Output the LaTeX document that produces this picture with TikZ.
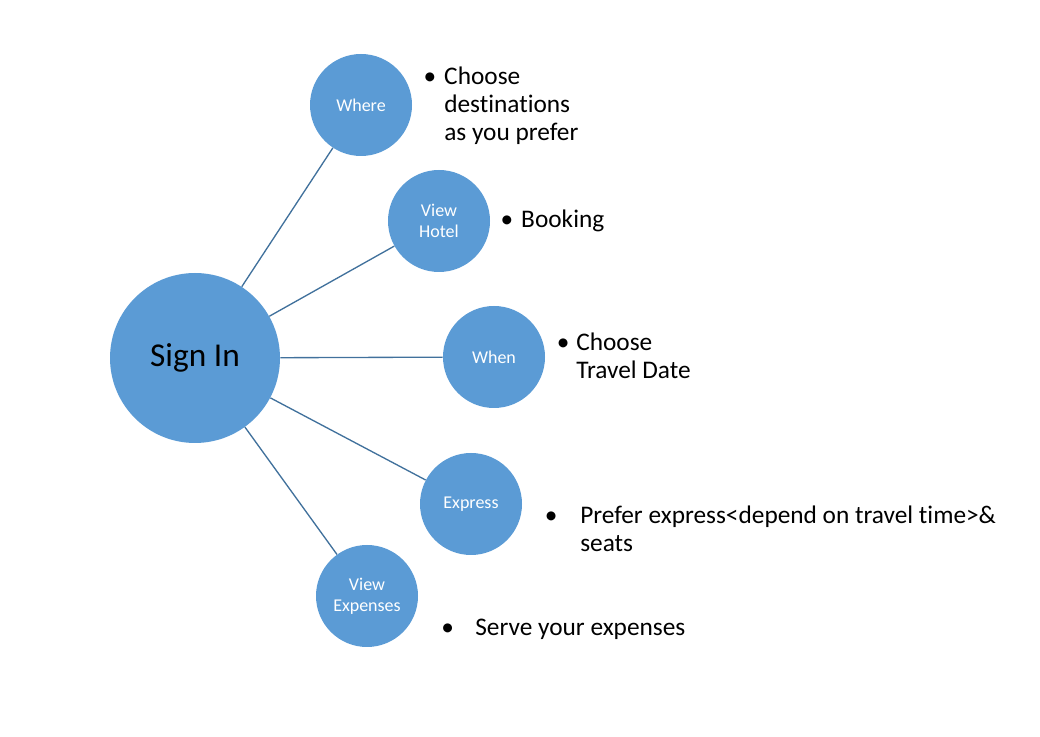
\documentclass[tikz,border=0pt]{standalone}
\usepackage{fontspec}
\setmainfont{Carlito}[Ligatures=NoCommon]
\usepackage{tikz}
\usetikzlibrary{positioning}

\definecolor{bubble}{RGB}{91,155,213}
\definecolor{spokeline}{RGB}{65,113,156}

% bullet item, first row is the baseline
\newcommand{\bulitem}[2]{\begin{tabular}[t]{@{}l@{}}\llap{\textbullet\hspace{#1}}#2\end{tabular}}

\begin{document}
\begin{tikzpicture}[x=0.75pt, y=-0.75pt,
    hub/.style={circle, fill=bubble, inner sep=0pt, minimum size=127.5pt,
      font=\fontsize{25}{29}\selectfont},
    spoke/.style={circle, fill=bubble, inner sep=0pt, minimum size=76.5pt,
      text=white, align=center, font=\fontsize{13.5}{15.75}\selectfont},
    link/.style={draw=spokeline, line width=1pt},
    note/.style={inner sep=0pt, anchor=base west, font=\fontsize{19}{21}\selectfont}]
  \useasboundingbox (0,0) rectangle (1040,737);

  \node[hub] (signin) at (195,358) {Sign In};

  \node[spoke] (where) at (361,105) {Where};
  \node[spoke] (hotel) at (439,221) {View\\Hotel};
  \node[spoke] (when) at (494,357) {When};
  \node[spoke] (express) at (471,504) {Express};
  \node[spoke] (expenses) at (367,596) {View\\Expenses};

  \draw[link] (signin) -- (where);
  \draw[link] (signin) -- (hotel);
  \draw[link] (signin) -- (when);
  \draw[link] (signin) -- (express);
  \draw[link] (signin) -- (expenses);

  \node[note] (whereNote) at (444,85) {\bulitem{6pt}{Choose\\destinations\\as you prefer}};
  \node[note] (hotelNote) at (521,228) {\bulitem{6pt}{Booking}};
  \node[note] (whenNote) at (576,351) {\bulitem{5pt}{Choose\\Travel Date}};
  \node[note] (expressNote) at (580,524) {\bulitem{17pt}{Prefer express<depend on travel time>\&\\seats}};
  \node[note] (expensesNote) at (475,636) {\bulitem{16pt}{Serve your expenses}};
\end{tikzpicture}
\end{document}
